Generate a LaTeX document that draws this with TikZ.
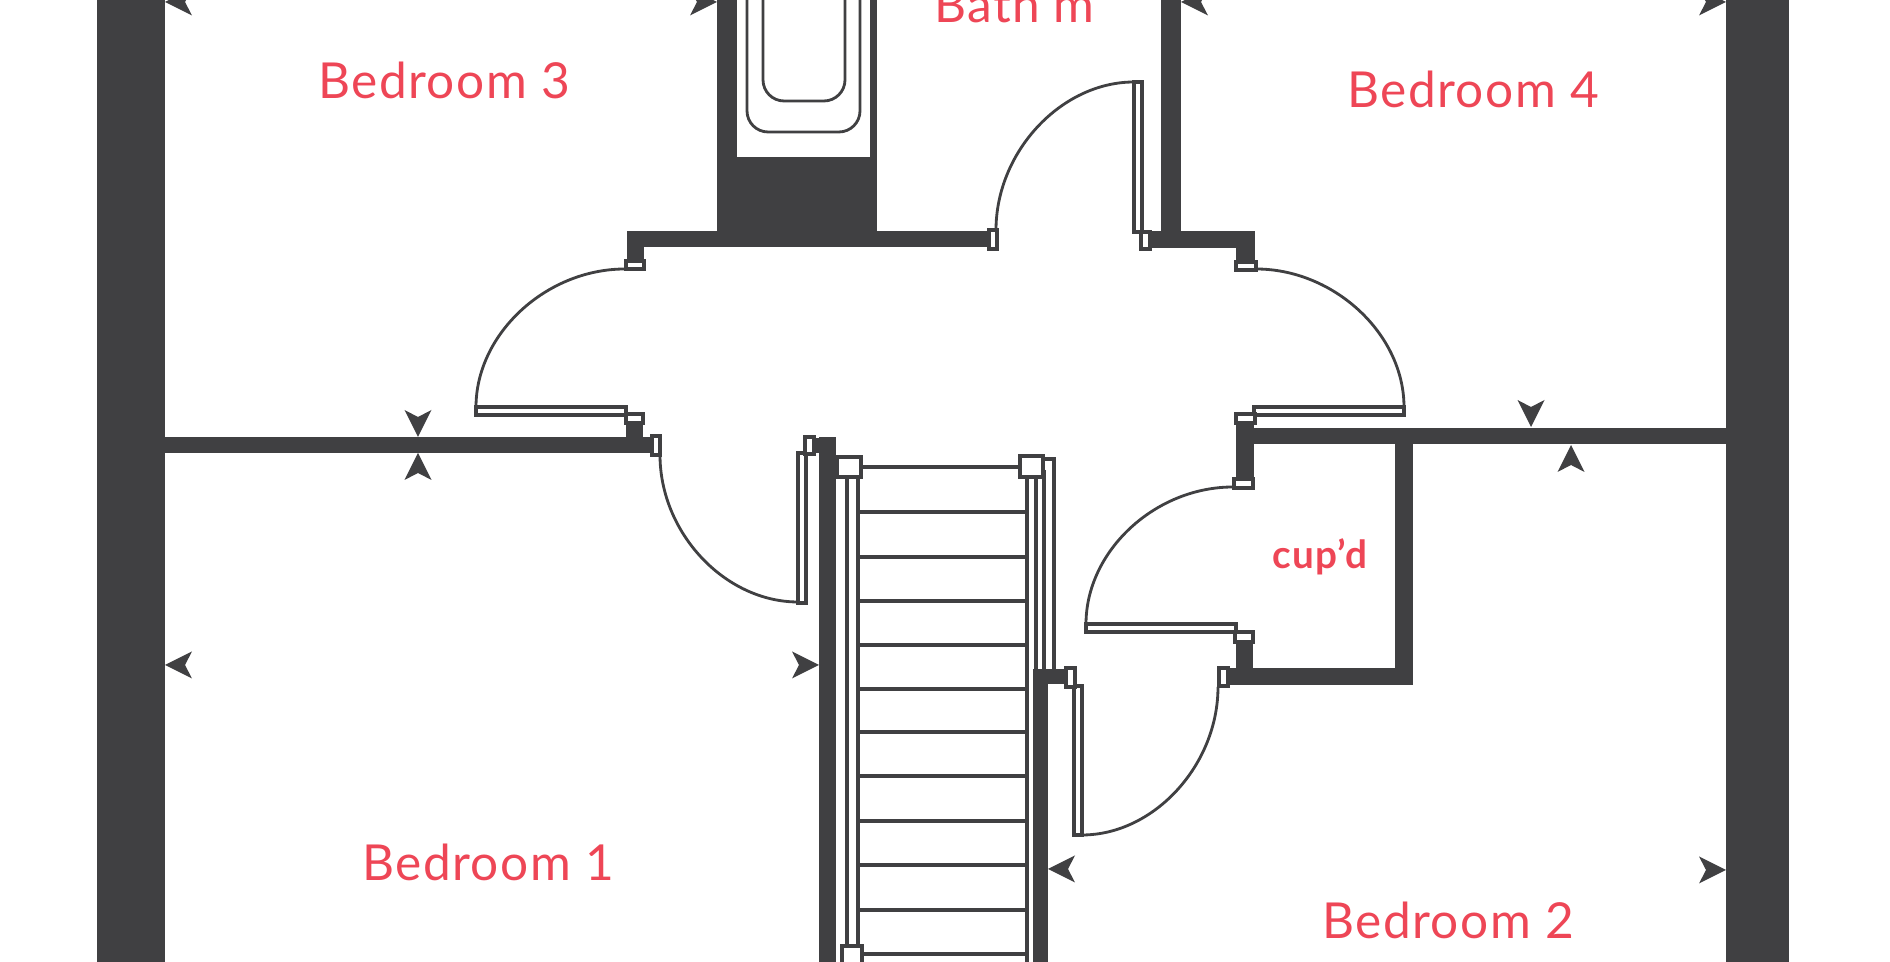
\documentclass[tikz,border=0pt]{standalone}
\usepackage{fontspec}
\setmainfont{Lato}
\usetikzlibrary{positioning}
\definecolor{walldark}{HTML}{404042}
\definecolor{roomred}{HTML}{EE4656}
\tikzset{
  wall/.style={fill=walldark, draw=none},
  thinline/.style={draw=walldark, line width=0.8pt},
  jamb/.style={thinline, fill=white, line width=0.9pt},
  stairline/.style={draw=walldark, line width=0.9pt},
  stairpost/.style={draw=walldark, fill=white, line width=1pt},
  roomlabel/.style={text=roomred, anchor=base, inner sep=0pt, font=\fontsize{14.1}{16}\selectfont\addfontfeature{LetterSpace=3}},
  dimmark/.pic={
    \fill[walldark] (0,0) -- (-27,13.5) .. controls (-24,6) .. (-20,0)
      .. controls (-24,-6) .. (-27,-13.5) -- cycle;
  }
}
\begin{document}
\begin{tikzpicture}[x=0.01cm, y=-0.01cm]
    \useasboundingbox (0,0) rectangle (1890,962);
    \clip (0,0) rectangle (1890,962);
    \fill[white] (0,0) rectangle (1890,962);

    % outer walls and partitions
    \fill[wall] (97,0) rectangle (165,962);
    \fill[wall] (1726,0) rectangle (1789,962);
    \fill[wall] (165,437) rectangle (653,453);
    \fill[wall] (626,414) rectangle (643,437);
    \fill[wall] (627,231) rectangle (991,247);
    \fill[wall] (627,231) rectangle (644,262);
    \fill[wall] (717,0) rectangle (877,247);
    \fill[wall] (1161,0) rectangle (1181,231);
    \fill[wall] (1150,231) rectangle (1255,248);
    \fill[wall] (1236,231) rectangle (1255,262);
    \fill[wall] (1236,423) rectangle (1254,479);
    \fill[wall] (1236,428) rectangle (1726,444);
    \fill[wall] (1395,428) rectangle (1413,685);
    \fill[wall] (1236,642) rectangle (1253,668);
    \fill[wall] (1227,668) rectangle (1413,685);
    \fill[wall] (819,437) rectangle (836,962);
    \fill[wall] (814,438) rectangle (819,453);
    \fill[wall] (1033,669) rectangle (1065,684);
    \fill[wall] (1033,669) rectangle (1048,962);

    % bath
    \fill[white] (737,-5) rectangle (870,157);
    \draw[thinline, rounded corners=6] (747,-5) -- (747,132) -- (860,132) -- (860,-5);
    \draw[thinline, rounded corners=6] (763,-5) -- (763,101) -- (845,101) -- (845,-5);

    % doors
    \draw[jamb] (476,407) rectangle (626,415);
    \draw[thinline] (476,407) .. controls (476,334) and (546,269) .. (625,269);
    \draw[jamb] (626,261) rectangle (644,269);
    \draw[jamb] (626,414) rectangle (643,423);
    \draw[jamb] (652,436) rectangle (660,455);
    \draw[jamb] (798,453) rectangle (806,603);
    \draw[thinline] (660,455) .. controls (660,533) and (725,602) .. (798,602);
    \draw[jamb] (805,437) rectangle (814,454);
    \draw[jamb] (1134,82) rectangle (1142,232);
    \draw[thinline] (1134,82) .. controls (1061,82) and (996,152) .. (996,230);
    \draw[jamb] (989,230) rectangle (997,249);
    \draw[jamb] (1141,232) rectangle (1150,249);
    \draw[jamb] (1254,407) rectangle (1404,415);
    \draw[thinline] (1404,407) .. controls (1404,334) and (1334,269) .. (1256,269);
    \draw[jamb] (1236,262) rectangle (1256,270);
    \draw[jamb] (1236,414) rectangle (1255,423);
    \draw[jamb] (1086,624) rectangle (1236,632);
    \draw[thinline] (1086,624) .. controls (1086,551) and (1155,487) .. (1233,487);
    \draw[jamb] (1234,479) rectangle (1253,488);
    \draw[jamb] (1235,632) rectangle (1253,642);
    \draw[jamb] (1219,668) rectangle (1228,686);
    \draw[jamb] (1074,686) rectangle (1082,835);
    \draw[thinline] (1218,687) .. controls (1218,765) and (1154,835) .. (1082,835);
    \draw[jamb] (1066,668) rectangle (1075,687);

    % stairs
    \foreach \treadY in {512,557,601,645,689,732,776,821,865,910,954}
      \draw[stairline] (858,\treadY) -- (1027,\treadY);
    \draw[stairline] (861,467) -- (1019,467);
    \draw[stairline] (847,477) -- (847,945);
    \draw[stairline] (858,477) -- (858,962);
    \draw[stairline] (1027,477) -- (1027,962);
    \draw[stairline] (1036,477) -- (1036,669);
    \draw[stairline] (1044,470) -- (1044,669);
    \draw[stairline] (1043,459) -- (1054,459) -- (1054,669);
    \draw[stairpost] (837,457) rectangle (861,477);
    \draw[stairpost] (1020,456) rectangle (1043,477);
    \draw[stairpost] (842,946) rectangle (862,970);

    % room dimension marks
    \pic[rotate=180] at (165,2) {dimmark};
    \pic at (717,2) {dimmark};
    \pic[rotate=180] at (1181,2) {dimmark};
    \pic at (1726,2) {dimmark};
    \pic[rotate=-90] at (418,437) {dimmark};
    \pic[rotate=90] at (418,453) {dimmark};
    \pic[rotate=180] at (165,665) {dimmark};
    \pic at (819,665) {dimmark};
    \pic[rotate=-90] at (1531,427) {dimmark};
    \pic[rotate=90] at (1571,445) {dimmark};
    \pic[rotate=180] at (1048,869) {dimmark};
    \pic at (1726,870) {dimmark};

    \node[roomlabel] (bedthree) at (444,99) {Bedroom 3};
    \node[roomlabel] (bath) at (1014,23) {Bath’m};
    \node[roomlabel] (bedfour) at (1473,108) {Bedroom 4};
    \node[roomlabel] (bedone) at (488,881) {Bedroom 1};
    \node[roomlabel] (bedtwo) at (1448,939) {Bedroom 2};
    \node[roomlabel, font=\fontsize{11}{12}\bfseries\selectfont\addfontfeature{LetterSpace=3}] (cupd) at (1320,569) {cup’d};
\end{tikzpicture}
\end{document}
